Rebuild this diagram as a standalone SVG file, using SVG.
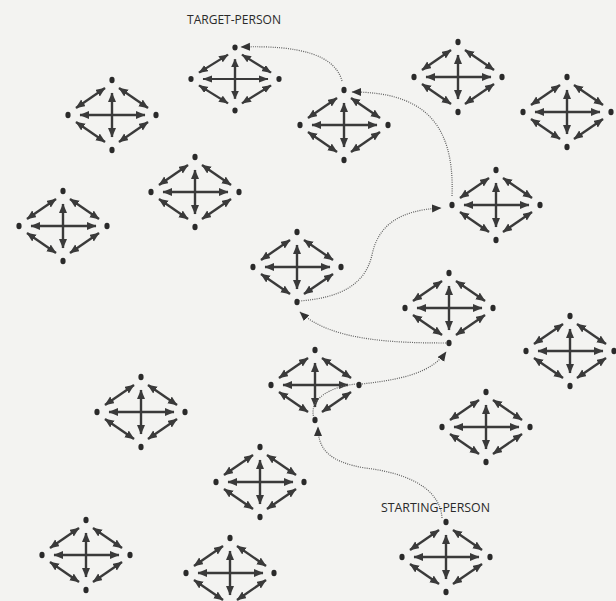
<svg xmlns="http://www.w3.org/2000/svg" xmlns:xlink="http://www.w3.org/1999/xlink" width="616" height="601" viewBox="0 0 616 601">
<style>
.ar{stroke:#3a3a3a;stroke-width:2.4;fill:none;marker-start:url(#ah);marker-end:url(#ah)}
.dot{fill:#2a2a2a}
.path{fill:none;stroke:#5e5e5e;stroke-width:1.2;stroke-dasharray:1 1.2;marker-end:url(#ph)}
.lbl{font-family:"Open Sans","Liberation Sans",sans-serif;font-size:12px;fill:#2a2a2a}
</style>
<defs>
<marker id="ah" markerUnits="userSpaceOnUse" markerWidth="11" markerHeight="9" refX="9" refY="4" orient="auto-start-reverse" viewBox="0 0 11 9">
<path d="M0,0 L9.5,4 L0,8 z" fill="#3a3a3a"/>
</marker>
<marker id="ph" markerUnits="userSpaceOnUse" markerWidth="11" markerHeight="9" refX="9" refY="4" orient="auto" viewBox="0 0 11 9">
<path d="M0,0 L9.5,4 L0,8 z" fill="#333"/>
</marker>
<g id="node">
<line class="ar" x1="-32" y1="0" x2="33" y2="0"/>
<line class="ar" x1="0" y1="-22" x2="0" y2="22"/>
<line class="ar" x1="-36" y1="-7" x2="-7" y2="-27"/>
<line class="ar" x1="7" y1="-27" x2="36" y2="-7"/>
<line class="ar" x1="-36" y1="7" x2="-7" y2="27"/>
<line class="ar" x1="7" y1="27" x2="36" y2="7"/>
<ellipse class="dot" cx="0" cy="-35" rx="2.6" ry="3.2"/>
<ellipse class="dot" cx="-44" cy="0" rx="2.6" ry="3.2"/>
<ellipse class="dot" cx="44" cy="0" rx="2.6" ry="3.2"/>
<ellipse class="dot" cx="0" cy="35" rx="2.6" ry="3.2"/>
</g>
</defs>
<rect width="616" height="601" fill="#f3f3f1"/>
<g id="n1" transform="translate(235,79) scale(1,0.9)"><use href="#node"/></g>
<g id="n2" transform="translate(344,125)"><use href="#node"/></g>
<g id="n3" transform="translate(458,77)"><use href="#node"/></g>
<g id="n4" transform="translate(567,112)"><use href="#node"/></g>
<g id="n5" transform="translate(112,115)"><use href="#node"/></g>
<g id="n6" transform="translate(195,192)"><use href="#node"/></g>
<g id="n7" transform="translate(63,226)"><use href="#node"/></g>
<g id="n8" transform="translate(496,205)"><use href="#node"/></g>
<g id="n9" transform="translate(297,267)"><use href="#node"/></g>
<g id="n10" transform="translate(449,308)"><use href="#node"/></g>
<g id="n11" transform="translate(315,385)"><use href="#node"/></g>
<g id="n12" transform="translate(570,351)"><use href="#node"/></g>
<g id="n13" transform="translate(486,427)"><use href="#node"/></g>
<g id="n14" transform="translate(141,412)"><use href="#node"/></g>
<g id="n15" transform="translate(260,482)"><use href="#node"/></g>
<g id="n16" transform="translate(446,557)"><use href="#node"/></g>
<g id="n17" transform="translate(86,555)"><use href="#node"/></g>
<g id="n18" transform="translate(230,573)"><use href="#node"/></g>
<g id="connectors">
<path class="path" d="M442,518 C440,485 400,472 365,468 C330,462 318,450 318,427"/>
<path class="path" style="marker-end:none" d="M314,418 C308,400 330,386 357,384"/>
<path class="path" d="M362,384 C395,380 430,375 446,352"/>
<path class="path" d="M446,343 C390,343 330,340 300,312"/>
<path class="path" d="M299,301 C340,298 365,285 372,255 C378,225 400,210 441,208"/>
<path class="path" d="M452,196 C455,120 420,92 352,92"/>
<path class="path" d="M342,81 C335,55 300,45 241,47"/>
</g>
<text class="lbl" x="187" y="24" textLength="94" lengthAdjust="spacingAndGlyphs">TARGET-PERSON</text>
<text class="lbl" x="381" y="512" textLength="109" lengthAdjust="spacingAndGlyphs">STARTING-PERSON</text>
</svg>
